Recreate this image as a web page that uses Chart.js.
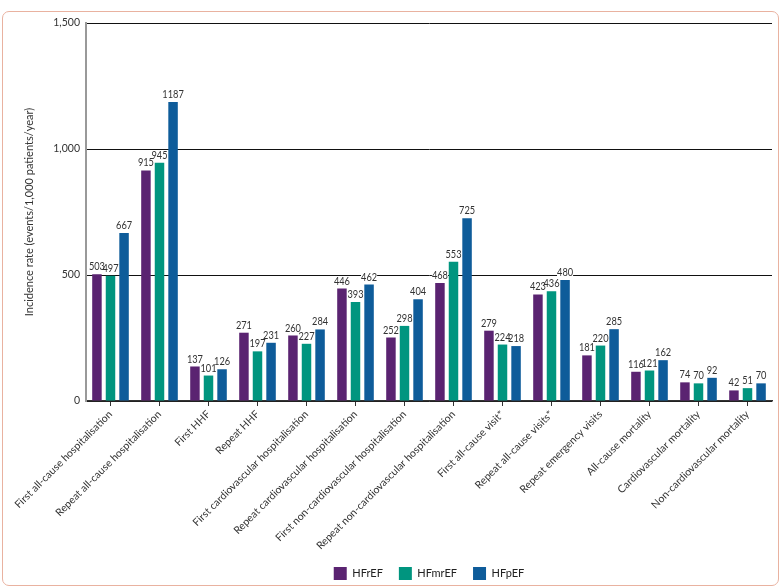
<!DOCTYPE html>
<html>
<head>
<meta charset="utf-8">
<script src="https://cdn.jsdelivr.net/npm/chart.js@4"></script>
<style>
  html, body { margin: 0; padding: 0; background: #fff; }
  #wrap { position: relative; width: 781px; height: 588px; }
  #frame {
    position: absolute; left: 2px; top: 11px; width: 775px; height: 573px;
    border: 1.5px solid #e9b2a0; border-radius: 7px; pointer-events: none;
  }
</style>
</head>
<body>
<div id="wrap">
  <canvas id="incidenceChart" width="781" height="588"></canvas>
  <div id="frame"></div>
</div>
<script>
// categories and values
var categories = [
  "First all-cause hospitalisation",
  "Repeat all-cause hospitalisation",
  "First HHF",
  "Repeat HHF",
  "First cardiovascular hospitalisation",
  "Repeat cardiovascular hospitalisation",
  "First non-cardiovascular hospitalisation",
  "Repeat non-cardiovascular hospitalisation",
  "First all-cause visit*",
  "Repeat all-cause visits*",
  "Repeat emergency visits",
  "All-cause mortality",
  "Cardiovascular mortality",
  "Non-cardiovascular mortality"
];
var hfref = [503, 915, 137, 271, 260, 446, 252, 468, 279, 423, 181, 116, 74, 42];
var hfmref = [497, 945, 101, 197, 227, 393, 298, 553, 224, 436, 220, 121, 70, 51];
var hfpef = [667, 1187, 126, 231, 284, 462, 404, 725, 218, 480, 285, 162, 92, 70];
var yTicks = [0, 500, 1000, 1500];

var fontFamily = "Lato, 'Noto Sans', sans-serif";

// draws the number above each bar (white backing first, then all texts)
// text is squeezed a little horizontally, the source font is narrow
var barLabels = {
  id: "barLabels",
  afterDatasetsDraw: function (chart) {
    var ctx = chart.ctx;
    var squeeze = 0.84;
    var items = [];
    ctx.save();
    ctx.font = "11px " + fontFamily;
    ctx.textAlign = "center";
    ctx.textBaseline = "bottom";
    chart.data.datasets.forEach(function (ds, i) {
      chart.getDatasetMeta(i).data.forEach(function (bar, j) {
        items.push({ t: String(ds.data[j]), x: bar.x, y: bar.y });
      });
    });
    ctx.fillStyle = "#fff";
    items.forEach(function (it) {
      var w = ctx.measureText(it.t).width * squeeze;
      ctx.fillRect(it.x - w / 2, it.y - 12, w, 9);
    });
    ctx.fillStyle = "#333";
    items.forEach(function (it) {
      ctx.save();
      ctx.translate(it.x, it.y - 2);
      ctx.scale(squeeze, 1);
      ctx.fillText(it.t, 0, 0);
      ctx.restore();
    });
    ctx.restore();
  }
};

var ctx = document.getElementById("incidenceChart").getContext("2d");
var chart = new Chart(ctx, {
  type: "bar",
  data: {
    labels: categories,
    datasets: [
      { label: "HFrEF", data: hfref, backgroundColor: "#5a2371" },
      { label: "HFmrEF", data: hfmref, backgroundColor: "#00957f" },
      { label: "HFpEF", data: hfpef, backgroundColor: "#0e5c9a" }
    ]
  },
  options: {
    responsive: false,
    animation: false,
    categoryPercentage: 0.83,
    barPercentage: 0.7,
    layout: { padding: { left: 19, top: 23, right: 9, bottom: -2 } },
    plugins: {
      tooltip: { enabled: false },
      legend: {
        position: "bottom",
        fullSize: false,
        labels: {
          boxWidth: 13,
          boxHeight: 13,
          padding: 16,
          color: "#222",
          font: { family: fontFamily, size: 11 }
        }
      }
    },
    scales: {
      x: {
        offset: true,
        grid: {
          offset: false,
          drawOnChartArea: false,
          drawTicks: true,
          tickLength: 5,
          color: "#333"
        },
        border: { color: "#333", width: 1.5 },
        ticks: {
          minRotation: 45,
          maxRotation: 45,
          autoSkip: false,
          padding: 2,
          color: "#333",
          font: { family: fontFamily, size: 10.5 }
        },
        afterFit: function (scale) { scale.height = 150; }
      },
      y: {
        min: 0,
        max: 1500,
        afterBuildTicks: function (scale) {
          scale.ticks = yTicks.map(function (v) { return { value: v }; });
        },
        grid: { color: "#111", lineWidth: 1, drawTicks: false },
        border: { color: "#999", width: 2 },
        ticks: {
          padding: 6,
          color: "#333",
          font: { family: fontFamily, size: 10.5 },
          callback: function (v) { return v.toLocaleString("en-US"); }
        },
        title: {
          display: true,
          text: "Incidence rate (events/1,000 patients/year)",
          color: "#333",
          font: { family: fontFamily, size: 11 }
        },
        afterFit: function (scale) { scale.width = 67; }
      }
    }
  },
  plugins: [barLabels]
});
</script>
</body>
</html>
